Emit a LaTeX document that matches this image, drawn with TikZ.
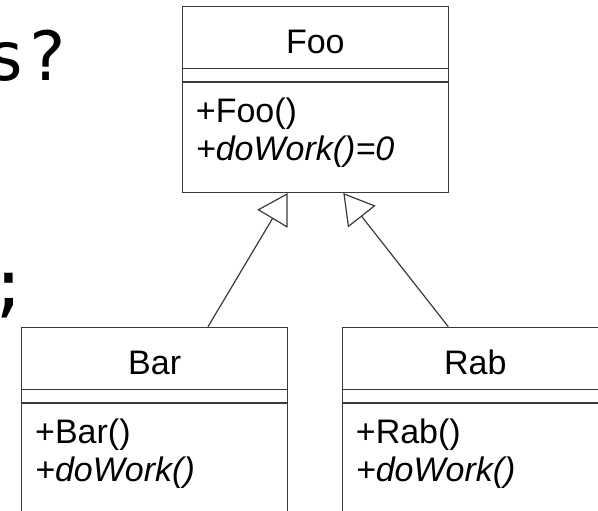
\documentclass[tikz,border=0pt]{standalone}
\usepackage{fontspec}
\setmainfont{Liberation Sans}
\newfontfamily\codefont{DejaVu Sans Mono}
\usetikzlibrary{arrows.meta}
\definecolor{umlline}{HTML}{3A3A3A}

\begin{document}
\begin{tikzpicture}[x=1pt, y=-1pt,
  classbox/.style={draw=umlline, line width=1.3pt, rectangle, inner sep=0pt,
    minimum width=266pt, anchor=north west},
  sepline/.style={draw=umlline, line width=1.3pt},
  cname/.style={anchor=base, inner sep=0pt, font=\fontsize{34}{38}\selectfont},
  cmember/.style={anchor=base west, inner sep=0pt, font=\fontsize{34}{38}\selectfont},
  codetext/.style={anchor=base east, inner sep=0pt, font=\codefont\fontsize{68}{80}\selectfont},
  inherits/.style={draw=umlline, line width=1.2pt,
    -{Triangle[open, length=30pt, width=35pt, line width=1.2pt]}}]
\useasboundingbox (0,0) rectangle (598,511);
\clip (0,0) rectangle (598,511);

% slide text running in from the left
\node[codetext] (question) at (68,81) {s?};
\node[codetext] (semicolon) at (29.5,308) {;};

% class boxes
\node[classbox, minimum height=186pt] (foo) at (181.7,5.7) {};
\node[classbox, minimum height=250pt] (bar) at (21,326.7) {};
\node[classbox, minimum height=250pt] (rab) at (341.7,326.7) {};

% compartment separators
\foreach \c in {foo,bar,rab}{
  \draw[sepline] ([yshift=-62.6pt]\c.north west) -- ([yshift=-62.6pt]\c.north east);
  \draw[sepline] ([yshift=-76.3pt]\c.north west) -- ([yshift=-76.3pt]\c.north east);
}

% class names
\node[cname] (fooname) at ([yshift=-47.6pt]foo.north) {Foo};
\node[cname] (barname) at ([yshift=-47.6pt]bar.north) {Bar};
\node[cname] (rabname) at ([yshift=-47.6pt]rab.north) {Rab};

% operations
\node[cmember] (fooctor) at ([xshift=14pt,yshift=-117pt]foo.north west) {+Foo()};
\node[cmember] (foowork) at ([xshift=14pt,yshift=-155pt]foo.north west) {\itshape +doWork()=0};
\node[cmember] (barctor) at ([xshift=14pt,yshift=-117pt]bar.north west) {+Bar()};
\node[cmember] (barwork) at ([xshift=14pt,yshift=-155pt]bar.north west) {\itshape +doWork()};
\node[cmember] (rabctor) at ([xshift=14pt,yshift=-117pt]rab.north west) {+Rab()};
\node[cmember] (rabwork) at ([xshift=14pt,yshift=-155pt]rab.north west) {\itshape +doWork()};

% generalisation arrows
\draw[inherits] ([xshift=187pt]bar.north west) -- ([xshift=106pt]foo.south west);
\draw[inherits] ([xshift=106.6pt]rab.north west) -- ([xshift=161.6pt]foo.south west);
\end{tikzpicture}
\end{document}
